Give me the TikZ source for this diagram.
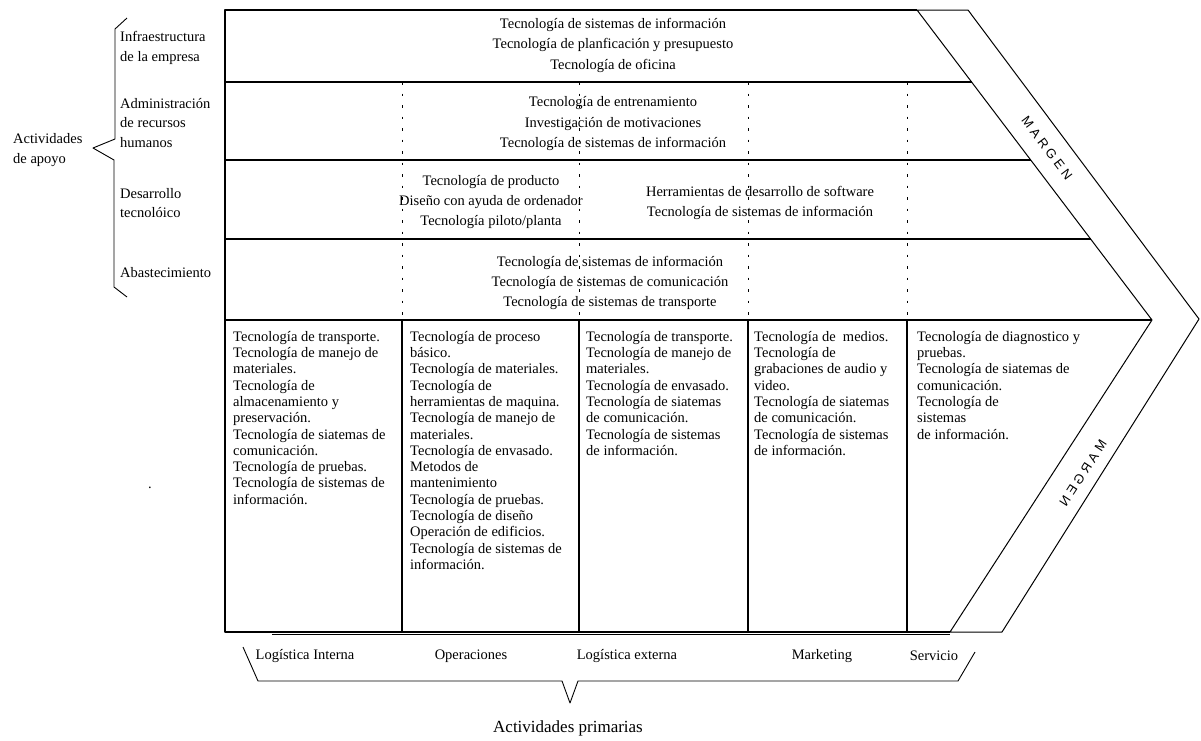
\documentclass[tikz,border=0pt]{standalone}
\usepackage{fontspec}
\setmainfont{Liberation Serif}
\newfontfamily\bandfont[LetterSpace=28]{Liberation Sans}
\begin{document}
\begin{tikzpicture}[x=1pt,y=-1pt,
  frame/.style={line width=1.3pt, line join=round},
  bandline/.style={line width=1pt, line join=round},
  divider/.style={line width=1pt, dash pattern=on 2.5pt off 9pt},
  brace/.style={line width=0.9pt, line join=round},
  rowtext/.style={font=\fontsize{14.5}{20.5}\selectfont, inner sep=0pt, align=center},
  coltext/.style={font=\fontsize{14.5}{16.3}\selectfont, inner sep=0pt, align=left, anchor=north west},
  sidetext/.style={font=\fontsize{14.5}{19.5}\selectfont, inner sep=0pt, align=left, anchor=west},
  primlabel/.style={font=\fontsize{14.5}{16}\selectfont, inner sep=0pt},
  bandtext/.style={font=\bandfont\fontsize{13}{13}\selectfont, inner sep=0pt}]
\useasboundingbox (0,0) rectangle (1201,740);

% ---- value chain frame ----
\coordinate (tl) at (225,10);
\coordinate (bl) at (225,632);
\coordinate (ti) at (917,10);   % inner diagonal, top
\coordinate (ai) at (1152,320); % inner apex
\coordinate (bi) at (950,632);  % inner diagonal, bottom
\coordinate (to) at (968,10);   % outer band, top
\coordinate (ao) at (1199,319); % outer apex
\coordinate (bo) at (1002,632); % outer band, bottom

\draw[frame] (bi) -- (bl) -- (tl) -- (ti);
\draw[bandline] (ti) -- (to) -- (ao) -- (bo) -- (bi) -- (ai) -- (ti);
\draw[frame] (272,634.5) -- (950,634.5);

% support activity rows
\draw[frame] (225,82)  -- (971.6,82);
\draw[frame] (225,160) -- (1030.7,160);
\draw[frame] (225,239) -- (1090.6,239);
\draw[frame] (225,320) -- (ai);

% column boundaries: dotted across support rows, solid across primary ones
\foreach \cx in {402,579,748,907} {
  \draw[divider] (\cx,82) -- (\cx,320);
  \draw[frame] (\cx,320) -- (\cx,632);
}

% ---- MARGEN band ----
\node[bandtext, rotate=-53] (m1) at (1047,148) {MARGEN};
\node[bandtext, rotate=57] (m2) at (1083,473) {\scalebox{-1}[1]{MARGEN}};

% ---- support activity contents ----
\node[rowtext] (r1) at (613,45) {Tecnología de sistemas de información\\
  Tecnología de planficación y presupuesto\\ Tecnología de oficina};
\node[rowtext] (r2) at (613,124) {Tecnología de entrenamiento\\
  Investigación de motivaciones\\ Tecnología de sistemas de información};
\node[rowtext, font=\fontsize{14.5}{20}\selectfont] (r3a) at (491,202) {Tecnología de producto\\
  Diseño con ayuda de ordenador\\ Tecnología piloto/planta};
\node[rowtext, font=\fontsize{14.5}{19.5}\selectfont] (r3b) at (760,203) {Herramientas de desarrollo de software\\
  Tecnología de sistemas de información};
\node[rowtext, font=\fontsize{14.5}{20}\selectfont] (r4) at (610,283) {Tecnología de sistemas de información\\
  Tecnología de sistemas de comunicación\\ Tecnología de sistemas de transporte};

% ---- primary activity contents ----
\node[coltext] (c1) at (233,331) {Tecnología de transporte.\\
  Tecnología de manejo de\\ materiales.\\ Tecnología de\\ almacenamiento y\\
  preservación.\\ Tecnología de siatemas de\\ comunicación.\\
  Tecnología de pruebas.\\ Tecnología de sistemas de\\ información.};
\node[coltext] (c2) at (410,331) {Tecnología de proceso\\ básico.\\
  Tecnología de materiales.\\ Tecnología de\\ herramientas de maquina.\\
  Tecnología de manejo de\\ materiales.\\ Tecnología de envasado.\\
  Metodos de\\ mantenimiento\\ Tecnología de pruebas.\\ Tecnología de diseño\\
  Operación de edificios.\\ Tecnología de sistemas de\\ información.};
\node[coltext] (c3) at (586,331) {Tecnología de transporte.\\
  Tecnología de manejo de\\ materiales.\\ Tecnología de envasado.\\
  Tecnología de siatemas\\ de comunicación.\\ Tecnología de sistemas\\
  de información.};
\node[coltext] (c4) at (754,331) {Tecnología de\ \ medios.\\ Tecnología de\\
  grabaciones de audio y\\ video.\\ Tecnología de siatemas\\
  de comunicación.\\ Tecnología de sistemas\\ de información.};
\node[coltext] (c5) at (917,331) {Tecnología de diagnostico y\\ pruebas.\\
  Tecnología de siatemas de\\ comunicación.\\ Tecnología de\\ sistemas\\
  de información.};

% ---- support activity labels and brace ----
\node[sidetext] (s1) at (120,48)  {Infraestructura\\ de la empresa};
\node[sidetext] (s2) at (120,123) {Administración\\ de recursos\\ humanos};
\node[sidetext] (s3) at (120,203) {Desarrollo\\ tecnolóico};
\node[sidetext] (s4) at (120,273) {Abastecimiento};
\node[sidetext] (sup) at (13,150) {Actividades\\ de apoyo};
\node[primlabel] (dot) at (150,488) {.};

\coordinate (b1) at (127,18);
\coordinate (b2) at (115,29);
\coordinate (b3) at (115,139);
\coordinate (btip) at (93,148);
\coordinate (b4) at (114,160);
\coordinate (b5) at (114,287);
\coordinate (b6) at (127,297);
\draw[brace] (b1) -- (b2) -- (b3) -- (btip) -- (b4) -- (b5) -- (b6);

% ---- primary activity labels and brace ----
\node[primlabel] (p1) at (305,656) {Logística Interna};
\node[primlabel] (p2) at (471,656) {Operaciones};
\node[primlabel] (p3) at (627,656) {Logística externa};
\node[primlabel] (p4) at (822,656) {Marketing};
\node[primlabel] (p5) at (934,656) {Servicio};
\node[primlabel, font=\fontsize{17}{20}\selectfont] (prim) at (568,728) {Actividades primarias};

\coordinate (q1) at (243,647);
\coordinate (q2) at (258,681);
\coordinate (q3) at (562,681);
\coordinate (qtip) at (570,703);
\coordinate (q4) at (578,681);
\coordinate (q5) at (958,681);
\coordinate (q6) at (975,652);
\draw[brace] (q1) -- (q2) -- (q3) -- (qtip) -- (q4) -- (q5) -- (q6);
\end{tikzpicture}
\end{document}
